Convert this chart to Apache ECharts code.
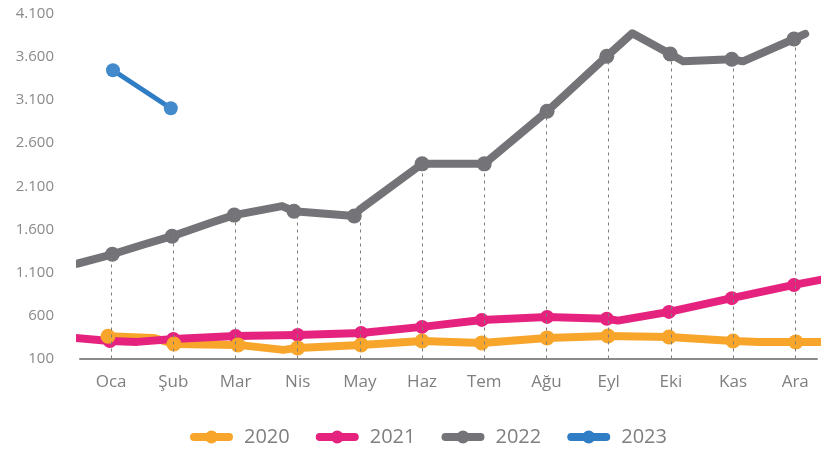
<!DOCTYPE html>
<html>
<head>
<meta charset="utf-8">
<script src="https://cdn.jsdelivr.net/npm/echarts@6/dist/echarts.min.js"></script>
<style>
  html, body { margin: 0; padding: 0; background: #ffffff; }
  #chart { width: 825px; height: 450px; }
</style>
</head>
<body>
<div id="chart"></div>
<script>
// Month names shown under the x axis (position = month index 0..11)
const months = ['Oca', 'Şub', 'Mar', 'Nis', 'May', 'Haz', 'Tem', 'Ağu', 'Eyl', 'Eki', 'Kas', 'Ara'];

// Y axis tick range
const yMin = 100;
const yMax = 4100;
const yStep = 500;

// Each point: [month position, value, 1 = monthly reading shown with a dot]
const y2020 = [
  [-0.05, 358, 1], [0.68, 339, 0], [1.01, 269, 1], [2.04, 258, 1], [2.77, 200, 0],
  [3.0, 223, 1], [4.02, 258, 1], [5.0, 304, 1], [5.96, 281, 1], [7.01, 339, 1],
  [7.99, 362, 1], [8.97, 350, 1], [10.0, 304, 1], [10.43, 293, 0], [11.01, 293, 1],
  [11.48, 293, 0]
];
const y2021 = [
  [-0.58, 340, 0], [-0.02, 304, 1], [0.42, 293, 0], [1.0, 327, 1], [2.0, 362, 1],
  [3.0, 374, 1], [4.02, 397, 1], [5.0, 467, 1], [5.96, 548, 1], [7.01, 583, 1],
  [7.97, 562, 1], [8.15, 540, 0], [8.97, 641, 1], [9.98, 801, 1], [10.98, 954, 1],
  [11.48, 1023, 0]
];
const y2022 = [
  [-0.55, 1200, 0], [0.02, 1310, 1], [0.55, 1430, 0], [0.98, 1520, 1], [1.64, 1685, 0],
  [1.98, 1765, 1], [2.75, 1870, 0], [2.94, 1810, 1], [3.91, 1755, 1], [4.0, 1830, 0],
  [5.0, 2360, 1], [6.0, 2360, 1], [7.01, 2970, 1], [7.97, 3610, 1], [8.38, 3877, 0],
  [8.99, 3635, 1], [9.2, 3550, 0], [9.98, 3575, 1], [10.16, 3550, 0], [10.98, 3810, 1],
  [11.16, 3870, 0]
];
const y2023 = [
  [0.03, 3447, 1], [0.96, 3006, 1]
];

const palette = {
  '2020': '#F8A52B',
  '2021': '#E5237F',
  '2022': '#747478',
  '2023': '#2F7DC4'
};
const dotColor = {
  '2020': '#F8A52B',
  '2021': '#E5237F',
  '2022': '#747478',
  '2023': '#438ACD'
};

const years = [
  { name: '2020', pts: y2020, width: 8, dot: 15 },
  { name: '2021', pts: y2021, width: 8, dot: 14 },
  { name: '2022', pts: y2022, width: 8, dot: 15 },
  { name: '2023', pts: y2023, width: 5, dot: 14 }
];

// Legend key: thick rounded bar with a dot in the middle
const keyIcon = 'path://M4,3H39A4,4,0,0,1,39,11H4A4,4,0,0,1,4,3Z' +
  'M21.5,0.5A6.5,6.5,0,1,1,21.5,13.5A6.5,6.5,0,1,1,21.5,0.5Z';

const fmt = v => String(v).replace(/\B(?=(\d{3})+(?!\d))/g, '.');

// Dashed drop lines from each monthly 2022 reading down to the axis
const drops = y2022.filter(p => p[2] === 1).map((p, i) => [
  { coord: [i, yMin] },
  { coord: [i, p[1]] }
]);

const series = [];
series.push({
  name: 'drops',
  type: 'line',
  data: [],
  z: 1,
  silent: true,
  markLine: {
    silent: true,
    symbol: ['none', 'none'],
    label: { show: false },
    lineStyle: { color: '#7c7c7c', width: 1, type: [3, 4] },
    data: drops
  }
});
// Lines first, then the dots on top of every line
years.forEach(y => {
  series.push({
    name: y.name,
    type: 'line',
    data: y.pts.map(p => [p[0], p[1]]),
    showSymbol: false,
    symbol: 'circle',
    symbolSize: y.dot,
    clip: false,
    z: 2,
    itemStyle: { color: dotColor[y.name] },
    lineStyle: { color: palette[y.name], width: y.width, cap: 'round', join: 'round' }
  });
});
[1, 0, 2, 3].forEach(k => {
  const y = years[k];
  series.push({
    name: y.name,
    type: 'scatter',
    data: y.pts.filter(p => p[2] === 1).map(p => [p[0], p[1]]),
    symbol: 'circle',
    symbolSize: y.dot,
    clip: false,
    z: 3,
    itemStyle: { color: dotColor[y.name], opacity: 1 }
  });
});

const chart = echarts.init(document.getElementById('chart'), null, { renderer: 'canvas' });
chart.setOption({
  animation: false,
  backgroundColor: '#ffffff',
  grid: { left: 80, right: 8, top: 14, bottom: 91.5 },
  legend: {
    data: years.map(y => ({ name: y.name, icon: keyIcon, itemStyle: { color: palette[y.name] } })),
    top: 427,
    left: 190,
    padding: 0,
    itemWidth: 43,
    itemHeight: 14,
    itemGap: 26,
    textStyle: { color: '#7f7f7f', fontSize: 20, fontFamily: 'Open Sans', padding: [0, 0, 0, 6] }
  },
  xAxis: {
    type: 'value',
    min: -0.5,
    max: 11.35,
    splitLine: { show: false },
    axisTick: { show: false },
    axisLine: { show: true, onZero: false, lineStyle: { color: '#8a8a8a', width: 2 } },
    axisLabel: {
      customValues: months.map((m, i) => i),
      formatter: v => months[Math.round(v)] || '',
      color: '#7f7f7f',
      fontSize: 17,
      fontFamily: 'Open Sans',
      margin: 15
    }
  },
  yAxis: {
    type: 'value',
    min: yMin,
    max: yMax,
    interval: yStep,
    splitLine: { show: false },
    axisTick: { show: false },
    axisLine: { show: false },
    axisLabel: {
      formatter: v => fmt(v),
      color: '#8a8a8a',
      fontSize: 15,
      fontFamily: 'Open Sans',
      margin: 26
    }
  },
  series: series
});
</script>
</body>
</html>
